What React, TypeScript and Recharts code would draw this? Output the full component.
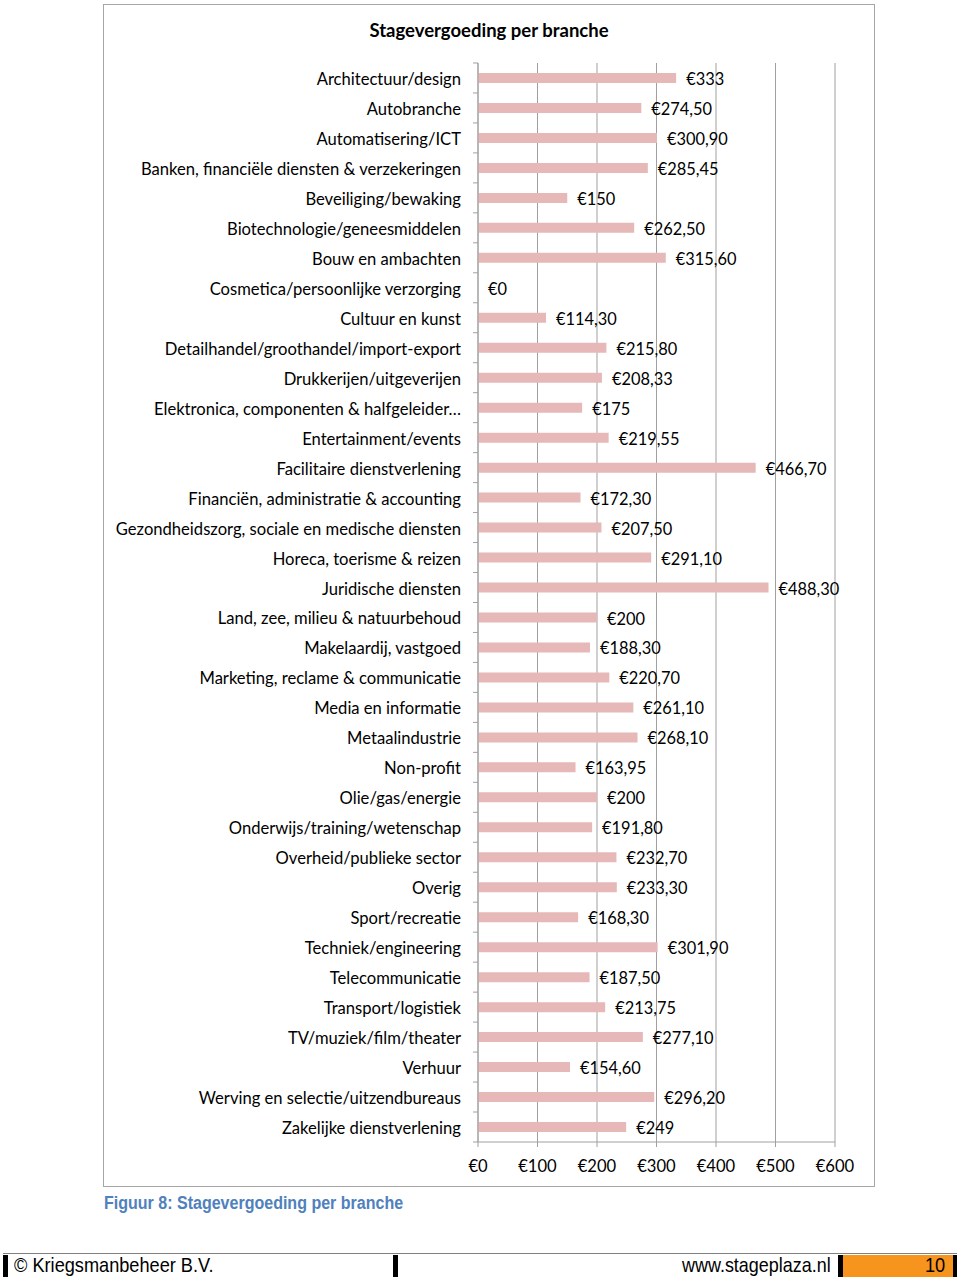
import { Bar, BarChart, CartesianGrid, LabelList, XAxis, YAxis } from "recharts";

const branches = [
  "Architectuur/design",
  "Autobranche",
  "Automatisering/ICT",
  "Banken, financiële diensten & verzekeringen",
  "Beveiliging/bewaking",
  "Biotechnologie/geneesmiddelen",
  "Bouw en ambachten",
  "Cosmetica/persoonlijke verzorging",
  "Cultuur en kunst",
  "Detailhandel/groothandel/import-export",
  "Drukkerijen/uitgeverijen",
  "Elektronica, componenten & halfgeleider…",
  "Entertainment/events",
  "Facilitaire dienstverlening",
  "Financiën, administratie & accounting",
  "Gezondheidszorg, sociale en medische diensten",
  "Horeca, toerisme & reizen",
  "Juridische diensten",
  "Land, zee, milieu & natuurbehoud",
  "Makelaardij, vastgoed",
  "Marketing, reclame & communicatie",
  "Media en informatie",
  "Metaalindustrie",
  "Non-profit",
  "Olie/gas/energie",
  "Onderwijs/training/wetenschap",
  "Overheid/publieke sector",
  "Overig",
  "Sport/recreatie",
  "Techniek/engineering",
  "Telecommunicatie",
  "Transport/logistiek",
  "TV/muziek/film/theater",
  "Verhuur",
  "Werving en selectie/uitzendbureaus",
  "Zakelijke dienstverlening",
];

const vergoeding = [
  333, 274.5, 300.9, 285.45, 150, 262.5, 315.6, 0, 114.3, 215.8, 208.33, 175,
  219.55, 466.7, 172.3, 207.5, 291.1, 488.3, 200, 188.3, 220.7, 261.1, 268.1,
  163.95, 200, 191.8, 232.7, 233.3, 168.3, 301.9, 187.5, 213.75, 277.1, 154.6,
  296.2, 249,
];

const xTicks = [0, 100, 200, 300, 400, 500, 600];

const data = branches.map((name, i) => ({ name, value: vergoeding[i] }));

const font = "Lato, 'Open Sans', sans-serif";
const arial = "'Liberation Sans', Arial, sans-serif";
const gray = "#a0a0a0";

function euro(v: number) {
  return "€" + (Number.isInteger(v) ? String(v) : v.toFixed(2).replace(".", ","));
}

function CategoryTick(props: any) {
  const { x, y, payload } = props;
  return (
    <g>
      <line x1={x + 12} x2={x + 17} y1={y - 15} y2={y - 15} stroke={gray} />
      {payload.index === branches.length - 1 && (
        <line x1={x + 12} x2={x + 17} y1={y + 15} y2={y + 15} stroke={gray} />
      )}
      <text x={x} y={y} dy={7} textAnchor="end" fontSize={16.6} fontFamily={font} fill="#000">
        {payload.value}
      </text>
    </g>
  );
}

function ValueLabel(props: any) {
  const { x, y, width, height, value } = props;
  return (
    <text
      x={x + width + 10}
      y={y + height / 2}
      dy={7}
      textAnchor="start"
      fontSize={16.4}
      fontFamily={font}
      fill="#000"
    >
      {euro(Number(value))}
    </text>
  );
}

function Narrow({ children, size, scale, bold, color }: any) {
  return (
    <span
      style={{
        display: "inline-block",
        fontFamily: arial,
        fontSize: size,
        fontWeight: bold ? 700 : 400,
        color,
        transform: `scaleX(${scale})`,
        transformOrigin: "left center",
        whiteSpace: "nowrap",
      }}
    >
      {children}
    </span>
  );
}

export default function App() {
  return (
    <div style={{ position: "absolute", left: 0, top: 0, width: 960, height: 1283, background: "#fff" }}>
      <div
        style={{
          position: "absolute",
          left: 103,
          top: 4,
          width: 770,
          height: 1181,
          border: "1px solid #a6a6a6",
        }}
      />
      <div
        style={{
          position: "absolute",
          left: 103,
          top: 19,
          width: 772,
          textAlign: "center",
          fontFamily: font,
          fontWeight: 700,
          fontSize: 18.5,
          color: "#000",
        }}
      >
        Stagevergoeding per branche
      </div>
      <div style={{ position: "absolute", left: 103, top: 4 }}>
        <BarChart
          width={772}
          height={1183}
          data={data}
          layout="vertical"
          margin={{ top: 59, right: 40, bottom: 15, left: 0 }}
          barCategoryGap={10}
        >
          <CartesianGrid horizontal={false} stroke={gray} strokeWidth={1} />
          <XAxis
            type="number"
            domain={[0, 600]}
            ticks={xTicks}
            tickFormatter={euro}
            axisLine={{ stroke: gray }}
            tickLine={{ stroke: gray }}
            tickSize={5}
            tickMargin={13}
            height={30}
            tick={{ fill: "#000", fontSize: 16.6, fontFamily: font }}
            interval={0}
          />
          <YAxis
            type="category"
            dataKey="name"
            width={375}
            axisLine={{ stroke: gray }}
            tickLine={false}
            tickMargin={11}
            interval={0}
            tick={<CategoryTick />}
          />
          <Bar
            dataKey="value"
            fill="#e6b9b8"
            barSize={10}
            minPointSize={(v: any) => (Number(v) === 0 ? 0.01 : 0)}
            isAnimationActive={false}
          >
            <LabelList dataKey="value" content={<ValueLabel />} />
          </Bar>
        </BarChart>
      </div>
      <div style={{ position: "absolute", left: 104, top: 1193 }}>
        <Narrow size={18} scale={0.89} bold color="#4f81bd">
          Figuur 8: Stagevergoeding per branche
        </Narrow>
      </div>
      <div style={{ position: "absolute", left: 3, top: 1253, width: 954, height: 1, background: "#808080" }} />
      <div style={{ position: "absolute", left: 3, top: 1255, width: 5, height: 22, background: "#000" }} />
      <div style={{ position: "absolute", left: 14, top: 1253 }}>
        <Narrow size={21} scale={0.865} color="#000">
          © Kriegsmanbeheer B.V.
        </Narrow>
      </div>
      <div style={{ position: "absolute", left: 393, top: 1255, width: 5, height: 22, background: "#000" }} />
      <div style={{ position: "absolute", left: 682, top: 1253 }}>
        <Narrow size={21} scale={0.855} color="#000">
          www.stageplaza.nl
        </Narrow>
      </div>
      <div style={{ position: "absolute", left: 838, top: 1255, width: 5, height: 22, background: "#000" }} />
      <div
        style={{
          position: "absolute",
          left: 843,
          top: 1255,
          width: 110,
          height: 22,
          background: "#f7941d",
        }}
      />
      <div style={{ position: "absolute", left: 925, top: 1253 }}>
        <Narrow size={21} scale={0.865} color="#000">
          10
        </Narrow>
      </div>
      <div style={{ position: "absolute", left: 953, top: 1255, width: 4, height: 22, background: "#000" }} />
    </div>
  );
}
